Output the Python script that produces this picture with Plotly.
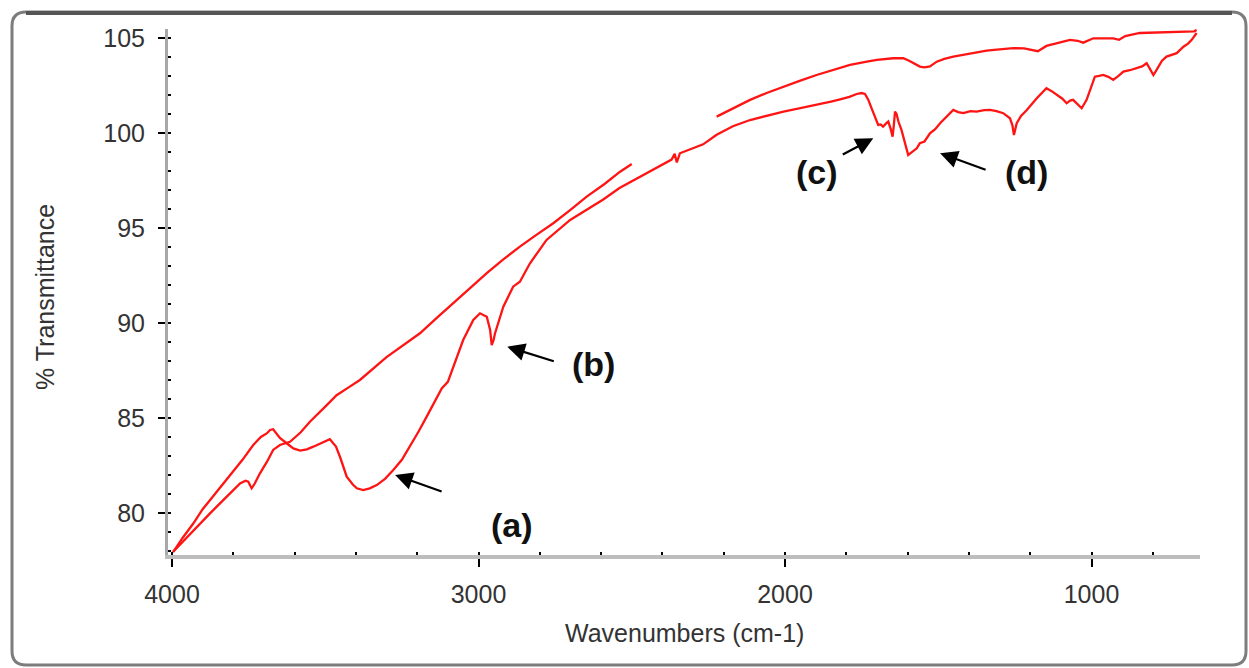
import plotly.graph_objects as go

# ---------------- data ----------------
# Sample spectrum with absorption bands (a)-(d)
wn_a = [3996, 3965, 3930, 3900, 3875, 3850, 3822, 3800, 3770, 3735, 3710, 3690, 3680, 3670,
        3660, 3648, 3626, 3604, 3582, 3560, 3539, 3510, 3485, 3465, 3452, 3430, 3410, 3397,
        3376, 3355, 3332, 3305, 3278, 3250, 3224, 3195, 3169, 3140, 3120, 3100, 3082, 3065,
        3050, 3017, 2995, 2973, 2962, 2957, 2951, 2946, 2919, 2887, 2865, 2832, 2778, 2701,
        2650, 2593, 2540, 2484, 2430, 2386, 2370, 2360, 2353, 2343, 2300, 2267, 2223, 2170,
        2114, 2060, 2005, 1950, 1897, 1850, 1820, 1790, 1766, 1750, 1739, 1728, 1720, 1711,
        1703, 1696, 1688, 1680, 1670, 1663, 1655, 1649, 1645, 1641, 1636, 1630, 1620, 1610,
        1598, 1585, 1570, 1560, 1545, 1527, 1510, 1494, 1470, 1451, 1435, 1418, 1395, 1375,
        1350, 1331, 1310, 1288, 1266, 1258, 1253, 1248, 1244, 1230, 1211, 1180, 1147, 1130,
        1114, 1095, 1081, 1070, 1060, 1045, 1032, 1016, 1000, 989, 975, 962, 945, 929, 912,
        896, 875, 853, 835, 820, 810, 798, 790, 782, 770, 755, 740, 722, 700, 685, 673, 660, 657]
tr_a = [77.96, 78.7, 79.46, 80.2, 80.7, 81.2, 81.74, 82.2, 82.8, 83.58, 84.0, 84.2, 84.37, 84.41,
        84.2, 83.95, 83.67, 83.4, 83.28, 83.35, 83.49, 83.7, 83.88, 83.5, 82.96, 81.91, 81.5, 81.3,
        81.21, 81.3, 81.47, 81.8, 82.26, 82.8, 83.49, 84.3, 85.07, 85.95, 86.56, 86.9, 87.7, 88.4,
        89.1, 90.16, 90.51, 90.33, 89.63, 88.84, 89.1, 89.46, 90.86, 91.91, 92.17, 93.14, 94.37, 95.42,
        95.95, 96.5, 97.1, 97.6, 98.1, 98.49, 98.6, 98.9, 98.45, 98.93, 99.2, 99.4, 99.9, 100.35,
        100.68, 100.9, 101.12, 101.3, 101.47, 101.65, 101.77, 101.9, 102.05, 102.1, 102.05, 101.74, 101.4, 101.04,
        100.7, 100.42, 100.45, 100.33, 100.5, 100.6, 100.2, 99.8, 100.4, 101.12, 101.0, 100.6, 100.16, 99.5,
        98.84, 99.0, 99.19, 99.46, 99.55, 99.98, 100.2, 100.51, 100.9, 101.21, 101.1, 101.04, 101.15, 101.12,
        101.2, 101.21, 101.15, 101.04, 100.77, 100.4, 99.89, 100.3, 100.51, 100.9, 101.21, 101.8, 102.35, 102.2,
        102.0, 101.8, 101.56, 101.7, 101.74, 101.5, 101.3, 101.74, 102.4, 102.96, 103.0, 103.05, 102.95, 102.79, 103.0,
        103.23, 103.3, 103.41, 103.5, 103.67, 103.35, 103.05, 103.25, 103.49, 103.8, 104.02, 104.1, 104.2, 104.54, 104.7, 104.9, 105.2, 105.26]

# Reference spectrum (gap in the CO2 region)
wn_b = [3997, 3965, 3930, 3900, 3876, 3850, 3822, 3800, 3778, 3760, 3751, 3745, 3740, 3730,
        3713, 3690, 3670, 3648, 3615, 3580, 3550, 3500, 3463, 3420, 3387, 3300, 3191, 3137,
        3082, 3027, 2973, 2920, 2865, 2810, 2756, 2700, 2647, 2590, 2538, 2500, 2360,
        2223, 2170, 2114, 2060, 2005, 1950, 1897, 1840, 1788, 1733, 1700, 1647, 1614, 1595,
        1581, 1560, 1545, 1527, 1505, 1480, 1451, 1400, 1342, 1300, 1255, 1220, 1190, 1175,
        1147, 1110, 1070, 1045, 1027, 994, 960, 929, 910, 890, 842, 800, 750, 689, 665, 657]
tr_b = [77.95, 78.5, 79.1, 79.6, 79.98, 80.4, 80.86, 81.2, 81.56, 81.7, 81.65, 81.45, 81.3, 81.55,
        82.09, 82.7, 83.32, 83.58, 83.75, 84.25, 84.8, 85.6, 86.2, 86.65, 87.0, 88.2, 89.46, 90.25,
        91.04, 91.85, 92.62, 93.33, 94.02, 94.65, 95.25, 95.95, 96.65, 97.3, 97.96, 98.37, None,
        100.86, 101.3, 101.74, 102.1, 102.44, 102.75, 103.05, 103.33, 103.58, 103.75, 103.84, 103.93, 103.93, 103.8,
        103.67, 103.49, 103.45, 103.5, 103.75, 103.9, 104.02, 104.18, 104.33, 104.4, 104.46, 104.45, 104.33, 104.3,
        104.58, 104.75, 104.9, 104.85, 104.75, 104.98, 105.0, 104.98, 104.9, 105.1, 105.26, 105.28, 105.29, 105.3, 105.35, 105.42]

x_ticks = [4000, 3000, 2000, 1000]
y_ticks = [80, 85, 90, 95, 100, 105]

labels = ["(a)", "(b)", "(c)", "(d)"]
label_x = [2891, 2625, 1897, 1211]
label_y = [79.37, 87.84, 97.96, 97.96]
arrow_x = [3272, 2906, 1712, 1494]
arrow_y = [82.0, 88.75, 99.72, 98.93]

# ---------------- layout geometry ----------------
W, H = 1249, 668
L, R, T, B = 168, 1200, 29, 555
FONT = "Liberation Sans, Arial, sans-serif"
RED = "#ff1414"


def px(X):
    return (X - L) / (R - L)


def py(Y):
    return (B - Y) / (B - T)


fig = go.Figure()
fig.add_trace(go.Scatter(x=wn_a, y=tr_a, mode="lines",
                         line=dict(color=RED, width=2.3), hoverinfo="skip"))
fig.add_trace(go.Scatter(x=wn_b, y=tr_b, mode="lines", connectgaps=False,
                         line=dict(color=RED, width=2.3), hoverinfo="skip"))

# arrows
arrow_tail = [(48, 17), (48, 15), (-32, 17), (47, 17)]
for (xa, ya), (dx, dy) in zip(zip(arrow_x, arrow_y), arrow_tail):
    fig.add_annotation(x=xa, y=ya, xref="x", yref="y", ax=dx, ay=dy,
                       showarrow=True, arrowhead=2, arrowsize=1.6, arrowwidth=2.2,
                       arrowcolor="#000000", text="")
for t, xl, yl in zip(labels, label_x, label_y):
    fig.add_annotation(x=xl, y=yl, xref="x", yref="y", text=f"<b>{t}</b>", showarrow=False,
                       font=dict(family=FONT, size=34, color="#111111"),
                       xanchor="center", yanchor="middle")

# axis titles
fig.add_annotation(x=px(684), y=py(633), xref="paper", yref="paper",
                   text="Wavenumbers (cm-1)", showarrow=False,
                   font=dict(family=FONT, size=25, color="#333333"),
                   xanchor="center", yanchor="middle")
fig.add_annotation(x=px(45), y=py(297), xref="paper", yref="paper",
                   text="% Transmittance", showarrow=False, textangle=-90,
                   font=dict(family=FONT, size=25, color="#333333"),
                   xanchor="center", yanchor="middle")

# window frame with rounded corners
X0, Y0, X1, Y1, r = 12, 12, 1246, 665, 14


def P(X, Y):
    return f"{px(X):.5f},{py(Y):.5f}"


path = (f"M {P(X0 + r, Y0)} L {P(X1 - r, Y0)} Q {P(X1, Y0)} {P(X1, Y0 + r)} "
        f"L {P(X1, Y1 - r)} Q {P(X1, Y1)} {P(X1 - r, Y1)} L {P(X0 + r, Y1)} "
        f"Q {P(X0, Y1)} {P(X0, Y1 - r)} L {P(X0, Y0 + r)} Q {P(X0, Y0)} {P(X0 + r, Y0)} Z")
fig.add_shape(type="path", path=path, xref="paper", yref="paper",
              line=dict(color="#7d7d7d", width=3), layer="below")
fig.add_shape(type="line", xref="paper", yref="paper",
              x0=px(X0 + r), x1=px(X1 - r), y0=py(Y0 + 1), y1=py(Y0 + 1),
              line=dict(color="#555555", width=4), layer="below")

fig.update_layout(
    width=W, height=H,
    margin=dict(l=L, r=W - R, t=T, b=H - B, pad=0),
    paper_bgcolor="#ffffff", plot_bgcolor="#ffffff",
    showlegend=False,
    xaxis=dict(range=[4000 + 4 / 0.3065, 646], autorange=False,
               tickmode="array", tickvals=x_ticks, ticktext=[str(v) for v in x_ticks],
               showgrid=False, zeroline=False,
               showline=True, linecolor="#bdbdbd", linewidth=4,
               ticks="outside", ticklen=8, tickwidth=2, tickcolor="#000000",
               ticklabelstandoff=6,
               tickfont=dict(family=FONT, size=25, color="#333333"),
               minor=dict(dtick=200, tick0=0, ticks="inside", ticklen=3,
                          tickwidth=2, tickcolor="#000000", showgrid=False)),
    yaxis=dict(range=[77.79, 105.47], autorange=False,
               tickmode="array", tickvals=y_ticks, ticktext=[str(v) for v in y_ticks],
               showgrid=False, zeroline=False,
               showline=True, linecolor="#a8a8a8", linewidth=3,
               ticks="outside", ticklen=7, tickwidth=2, tickcolor="#000000",
               ticklabelstandoff=8,
               tickfont=dict(family=FONT, size=25, color="#333333"),
               minor=dict(dtick=1, tick0=0, ticks="inside", ticklen=3,
                          tickwidth=2, tickcolor="#000000", showgrid=False)),
)

fig.write_html("out.html")
